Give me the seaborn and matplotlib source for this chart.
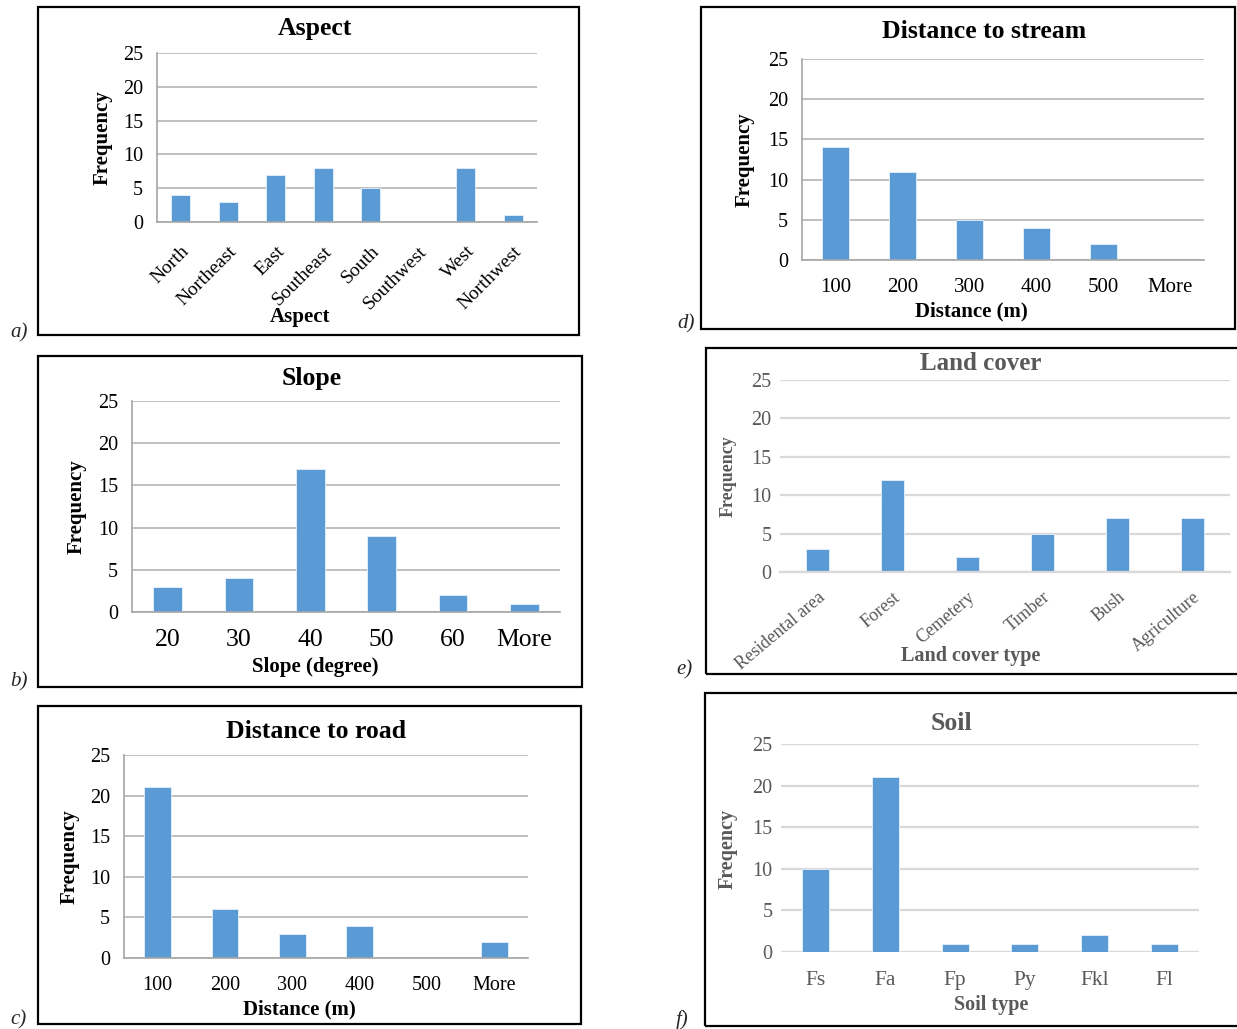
import matplotlib
matplotlib.use("Agg")
import matplotlib.pyplot as plt
from matplotlib.patches import Rectangle
from matplotlib.ticker import FixedLocator
import seaborn as sns

sns.set_theme(style="white")
plt.rcParams['font.family'] = ['Liberation Serif', 'DejaVu Serif']

# ---------------- data ----------------
aspect_cats = ["North", "Northeast", "East", "Southeast", "South", "Southwest", "West", "Northwest"]
aspect_vals = [4, 3, 7, 8, 5, 0, 8, 1]

slope_cats = ["20", "30", "40", "50", "60", "More"]
slope_vals = [3, 4, 17, 9, 2, 1]

road_cats = ["100", "200", "300", "400", "500", "More"]
road_vals = [21, 6, 3, 4, 0, 2]

stream_cats = ["100", "200", "300", "400", "500", "More"]
stream_vals = [14, 11, 5, 4, 2, 0]

land_cats = ["Residental area", "Forest", "Cemetery", "Timber", "Bush", "Agriculture"]
land_vals = [3, 12, 2, 5, 7, 7]

soil_cats = ["Fs", "Fa", "Fp", "Py", "Fkl", "Fl"]
soil_vals = [10, 21, 1, 1, 2, 1]

yticks = [0, 5, 10, 15, 20, 25]

BAR = "#5B9BD5"
W, H = 1237, 1029
fig = plt.figure(figsize=(W / 100, H / 100), dpi=100)


def px_rect(x0, y0, x1, y1):
    return [x0 / W, 1 - y1 / H, (x1 - x0) / W, (y1 - y0) / H]


def box(x0, y0, x1, y1):
    fig.add_artist(Rectangle((x0 / W, 1 - y1 / H), (x1 - x0) / W, (y1 - y0) / H,
                             transform=fig.transFigure, fill=False, lw=1.6, ec="black"))


def ftext(x, y, s, **kw):
    fig.text(x / W, 1 - y / H, s, **kw)


def panel(rect, cats, vals, width, title, xlabel, ylabel, style,
          title_xy, xlabel_xy, ylabel_xy, xrot=0,
          xfs=14, yfs=14.5, title_fs=18.5, lab_fs=15, ylab_fs=None, xpad=6):
    x0, y0, x1, y1 = rect
    ax = fig.add_axes(px_rect(*rect))

    def axc(px, py):
        return (px - x0) / (x1 - x0), (y1 - py) / (y1 - y0)

    sns.barplot(x=cats, y=vals, color=BAR, width=width, saturation=1, ax=ax,
                edgecolor="#e8f0fa", linewidth=0.6)
    ax.set_ylim(0, 25)
    ax.set_xlim(-0.5, len(cats) - 0.5)
    ax.set_yticks(yticks)
    if style == "dark":
        tc = "black"
        gc = "#c0c0c0"
        glw = 1.4
    else:
        tc = "#595959"
        gc = "#d9d9d9"
        glw = 1.6
    ax.yaxis.grid(True, color=gc, lw=glw)
    ax.set_axisbelow(True)
    for s in ["top", "right"]:
        ax.spines[s].set_visible(False)
    ax.spines["bottom"].set_color(gc if style != "dark" else "#a6a6a6")
    ax.spines["bottom"].set_linewidth(glw if style != "dark" else 1.2)
    if style == "dark":
        ax.spines["left"].set_color("#a6a6a6")
        ax.spines["left"].set_linewidth(1.2)
        ax.tick_params(axis="y", length=4, color="#a6a6a6", width=1.2)
    else:
        ax.spines["left"].set_visible(False)
        ax.tick_params(axis="y", length=0)
    ax.tick_params(axis="y", labelsize=yfs, labelcolor=tc, pad=6)
    ax.tick_params(axis="x", which="major", length=0, labelsize=xfs, labelcolor=tc, pad=xpad)
    if style != "soil":
        ax.xaxis.set_minor_locator(FixedLocator([i - 0.5 for i in range(len(cats) + 1)]))
        ax.tick_params(axis="x", which="minor", length=5,
                       color=("#a6a6a6" if style == "dark" else "#d9d9d9"), width=1.2)
    if xrot:
        for lab in ax.get_xticklabels():
            lab.set_rotation(xrot)
            lab.set_ha("right")
            lab.set_rotation_mode("anchor")
    tx, ty = axc(title_xy[0], title_xy[1] + 3)
    ax.set_title(title, fontsize=title_fs, fontweight="bold", color=tc, x=tx, y=ty,
                 va="center", pad=0)
    ax.set_xlabel(xlabel, fontsize=lab_fs, fontweight="bold", color=tc)
    ax.set_ylabel(ylabel, fontsize=ylab_fs or lab_fs, fontweight="bold", color=tc)
    ax.xaxis.set_label_coords(*axc(xlabel_xy[0], xlabel_xy[1] + 1))
    ax.yaxis.set_label_coords(*axc(*ylabel_xy))
    ax.xaxis.label.set_va("center")
    ax.yaxis.label.set_va("center")
    return ax


LAB = dict(fontsize=15, style="italic", va="center")

# a) Aspect
box(38, 7, 579, 335)
panel((157, 53, 537, 222), aspect_cats, aspect_vals, 0.4, "Aspect", "Aspect",
      "Frequency", "dark", (315, 25), (300, 316), (103, 138), xrot=45,
      xfs=14, xpad=15)
ftext(10, 333, "a)", **LAB)

# b) Slope
box(38, 356, 582, 687)
panel((132, 401, 560, 612), slope_cats, slope_vals, 0.4, "Slope", "Slope (degree)",
      "Frequency", "dark", (312, 376), (315, 666), (77, 507), xfs=18.5, xpad=12)
ftext(10, 682, "b)", **LAB)

# c) Distance to road
box(38, 706, 581, 1024)
panel((124, 755, 528, 958), road_cats, road_vals, 0.4, "Distance to road",
      "Distance (m)", "Frequency", "dark", (316, 728), (299, 1008), (70, 857),
      xfs=14.5, xpad=13)
ftext(10, 1020, "c)", **LAB)

# d) Distance to stream
box(701, 7, 1235, 329)
panel((802, 59, 1204, 260), stream_cats, stream_vals, 0.4, "Distance to stream",
      "Distance (m)", "Frequency", "dark", (984, 29), (971, 310), (745, 160),
      xfs=15, xpad=13)
ftext(677, 324, "d)", **LAB)

# e) Land cover
box(706, 348, 1240, 674)
panel((780, 380, 1230, 572), land_cats, land_vals, 0.31, "Land cover",
      "Land cover type", "Frequency", "light", (981, 361), (971, 655), (728, 476),
      xrot=40, xfs=13, yfs=14.5, title_fs=18, lab_fs=14.5, ylab_fs=13, xpad=12)
ftext(676, 670, "e)", **LAB)

# f) Soil
box(705, 693, 1240, 1026)
ax = panel((781, 744, 1199, 952), soil_cats, soil_vals, 0.39, "Soil",
           "Soil type", "Freqency", "soil", (951, 720), (991, 1004), (728, 849),
           xfs=15.5, xpad=14, lab_fs=14.5)
ax.spines["bottom"].set_visible(False)
ftext(676, 1020, "f)", **LAB)

fig.savefig("out.png", dpi=100)
